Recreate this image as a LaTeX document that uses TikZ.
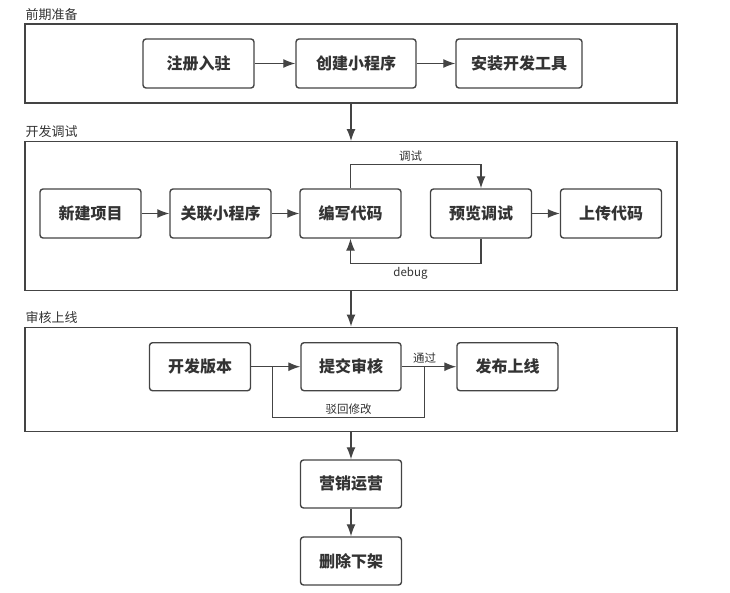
\documentclass[tikz,border=0pt]{standalone}
\usepackage{fontspec}
\newfontfamily\cjk{Noto Sans CJK SC}
\usetikzlibrary{arrows.meta,positioning,calc}

\definecolor{linegray}{HTML}{444444}
\definecolor{textgray}{HTML}{333333}

\begin{document}
\begin{tikzpicture}[x=1pt,y=-1pt,font=\cjk,text=textgray]
  %----- styles
  \tikzset{
    group/.style ={draw=linegray,line width=1.4pt,minimum width=652pt},
    stage/.style ={draw=linegray,line width=1.4pt,rounded corners=3pt,minimum width=101pt,minimum height=49pt,font=\cjk\bfseries\fontsize{16}{19}\selectfont},
    title/.style ={anchor=south west,inner sep=1pt,font=\cjk\fontsize{13}{15}\selectfont},
    tag/.style   ={inner sep=2pt,font=\cjk\fontsize{11.5}{13}\selectfont},
    arrow/.style ={draw=linegray,-{Latex[length=12pt,width=9pt]},line width=1.3pt},
    link/.style  ={draw=linegray,line width=1.3pt}
  }
  \useasboundingbox (0,0) rectangle (730,593);

  %----- groups
  \node[group,minimum height=79pt]    (prep)  at (351,63.5)  {};
  \node[group,minimum height=148.5pt] (dev)   at (351,216)   {};
  \node[group,minimum height=104.5pt] (audit) at (351,379.5) {};
  \node[title] (tprep)  at ([yshift=2pt]prep.north west)  {前期准备};
  \node[title] (tdev)   at ([yshift=2pt]dev.north west)   {开发调试};
  \node[title] (taudit) at ([yshift=2pt]audit.north west) {审核上线};

  %----- stage 1
  \node[stage,minimum width=111pt] (register) at (198.5,63.5) {注册入驻};
  \node[stage,minimum width=120pt] (create)   at (356,63.5)   {创建小程序};
  \node[stage,minimum width=126pt] (tools)    at (519,63.5)   {安装开发工具};

  %----- stage 2
  \node[stage] (newproj) at (90.5,213.5) {新建项目};
  \node[stage] (bind)    at (220.5,213.5) {关联小程序};
  \node[stage] (code)    at (350.5,213.5) {编写代码};
  \node[stage] (preview) at (481,213.5)   {预览调试};
  \node[stage] (upload)  at (611,213.5)   {上传代码};

  %----- stage 3
  \node[stage,minimum height=48pt] (version) at (200,366.7)   {开发版本};
  \node[stage,minimum height=48pt,minimum width=100pt] (submit) at (351,366.7) {提交审核};
  \node[stage,minimum height=48pt] (publish) at (507.5,366.7) {发布上线};

  %----- after release
  \node[stage,minimum height=48pt] (market) at (351,484) {营销运营};
  \node[stage,minimum height=48pt] (remove) at (351,561) {删除下架};

  %----- connections
  \draw[arrow] (register) -- (create);
  \draw[arrow] (create) -- (tools);
  \draw[arrow] (prep.south) -- (dev.north);

  \draw[arrow] (newproj) -- (bind);
  \draw[arrow] (bind) -- (code);
  \draw[arrow] (preview) -- (upload);
  \draw[arrow] (code.north) -- ++(0,-23.5) -| node[tag,pos=0.23,above=1pt] {调试} (preview.north);
  \draw[arrow] (preview.south) -- ++(0,24.5) -| node[tag,pos=0.27,below=1pt] {debug} (code.south);
  \draw[arrow] (dev.south) -- (audit.north);

  \draw[arrow] (version) -- (submit);
  \draw[arrow] (submit) -- (publish);
  \coordinate (split) at ($(version.east)!0.44!(submit.west)$);
  \coordinate (merge) at ($(submit.east)!0.42!(publish.west)$);
  \node[tag,above=1pt of merge] (pass) {通过};
  \draw[link] (merge) -- ++(0,50.6) -| node[tag,pos=0.25,above=0pt] {驳回修改} (split);

  \draw[arrow] (audit.south) -- (market.north);
  \draw[arrow] (market) -- (remove);
\end{tikzpicture}
\end{document}
